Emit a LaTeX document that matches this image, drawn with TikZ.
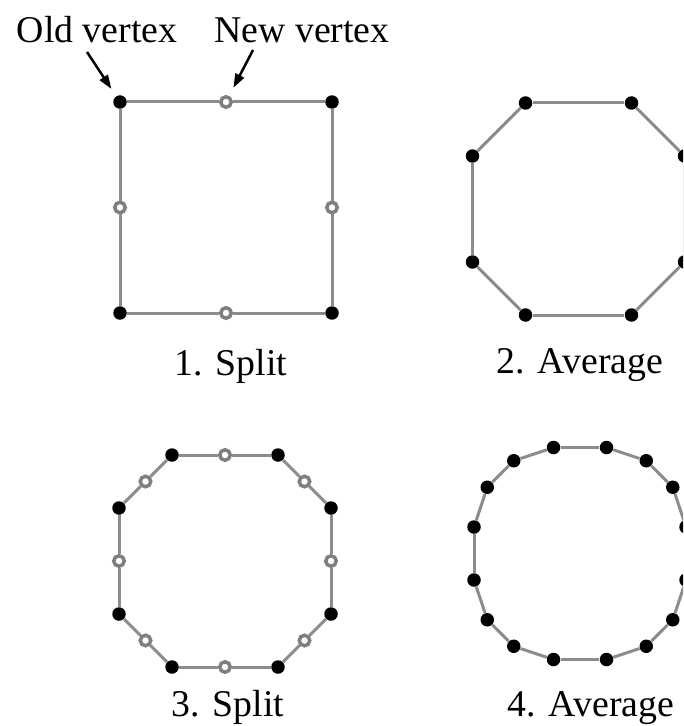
\documentclass[tikz,border=0pt]{standalone}
\usepackage{fontspec}
\setmainfont{Liberation Serif}
\usetikzlibrary{arrows.meta}
\definecolor{subEdge}{HTML}{8C8C8C}
\definecolor{subRing}{HTML}{7F7F7F}
\tikzset{
  oldpt/.style={
    circle,
    fill=black,
    inner sep=0pt,
    minimum size=0.27cm
  },
  newpt/.style={
    circle,
    draw=subRing,
    fill=white,
    line width=0.07cm,
    inner sep=0pt,
    minimum size=0.21cm
  },
  edge/.style={draw=subEdge, line width=0.06cm},
  caption/.style={font=\fontsize{21.5}{25}\selectfont, anchor=base, inner sep=0pt},
  pointer/.style={-{Triangle[length=0.28cm,width=0.19cm]}, line width=0.05cm}
}

\begin{document}
\begin{tikzpicture}[x=0.02cm, y=-0.02cm]
  \useasboundingbox (0,0) rectangle (683,726);
  \clip (0,0) rectangle (683,726);

  % 1. Split
  \begin{scope}[shift={(226,207.5)}]
    \foreach \px/\py/\kind [count=\i] in {-106/-105.5/oldpt, 0/-105.5/newpt, 106/-105.5/oldpt, 106/0/newpt,
        106/105.5/oldpt, 0/105.5/newpt, -106/105.5/oldpt, -106/0/newpt}
      \node[\kind] (a\i) at (\px,\py) {};
    \foreach \i [remember=\i as \j (initially 8)] in {1,...,8}
      \draw[edge] (a\j) -- (a\i);
  \end{scope}
  \node[caption] (cap1) at (231,375) {1. Split};

  % 2. Average
  \begin{scope}[shift={(578.5,209)}]
    \foreach \px/\py [count=\i] in {-53/-106, 53/-106, 106/-53, 106/53, 53/106, -53/106, -106/53, -106/-53}
      \node[oldpt] (b\i) at (\px,\py) {};
    \foreach \i [remember=\i as \j (initially 8)] in {1,...,8}
      \draw[edge] (b\j) -- (b\i);
  \end{scope}
  \node[caption] (cap2) at (580,373) {2. Average};

  % 3. Split
  \begin{scope}[shift={(225,561)}]
    \foreach \px/\py/\kind [count=\i] in {-53/-106/oldpt, 0/-106/newpt, 53/-106/oldpt, 79.5/-79.5/newpt,
        106/-53/oldpt, 106/0/newpt, 106/53/oldpt, 79.5/79.5/newpt,
        53/106/oldpt, 0/106/newpt, -53/106/oldpt, -79.5/79.5/newpt,
        -106/53/oldpt, -106/0/newpt, -106/-53/oldpt, -79.5/-79.5/newpt}
      \node[\kind] (c\i) at (\px,\py) {};
    \foreach \i [remember=\i as \j (initially 16)] in {1,...,16}
      \draw[edge] (c\j) -- (c\i);
  \end{scope}
  \node[caption] (cap3) at (228,716) {3. Split};

  % 4. Average
  \begin{scope}[shift={(580,553.5)}]
    \foreach \px/\py [count=\i] in {-26.5/-106, 26.5/-106, 66.25/-92.75, 92.75/-66.25,
        106/-26.5, 106/26.5, 92.75/66.25, 66.25/92.75,
        26.5/106, -26.5/106, -66.25/92.75, -92.75/66.25,
        -106/26.5, -106/-26.5, -92.75/-66.25, -66.25/-92.75}
      \node[oldpt] (d\i) at (\px,\py) {};
    \foreach \i [remember=\i as \j (initially 16)] in {1,...,16}
      \draw[edge] (d\j) -- (d\i);
  \end{scope}
  \node[caption] (cap4) at (591,716) {4. Average};

  % pointers
  \node[caption] (oldlbl) at (97,43) {Old vertex};
  \node[caption] (newlbl) at (302,43) {New vertex};
  \coordinate (oldtail) at (87,52);
  \coordinate (newtail) at (253,50);
  \draw[pointer, shorten >=0.17cm] (oldtail) -- (a1);
  \draw[pointer, shorten >=0.18cm] (newtail) -- (a2);
\end{tikzpicture}
\end{document}
